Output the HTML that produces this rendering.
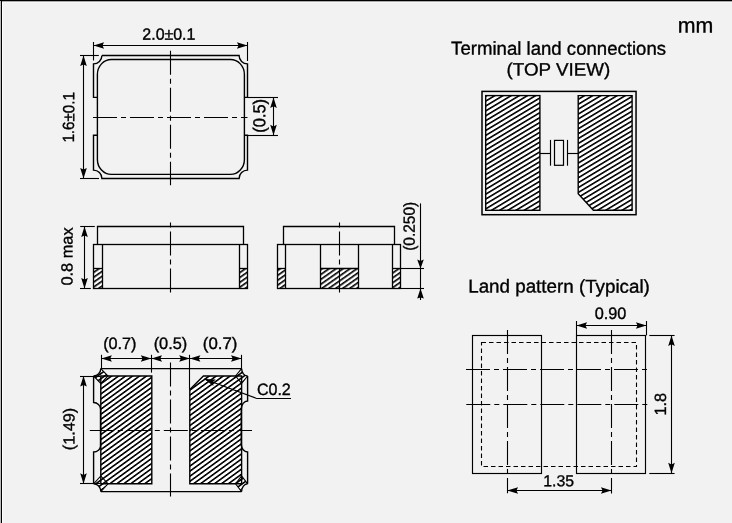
<!DOCTYPE html>
<html><head><meta charset="utf-8"><style>
html,body{margin:0;padding:0;background:#f1f2f1;}
svg{display:block;will-change:transform;}
text{text-rendering:geometricPrecision;font-family:"Liberation Sans",sans-serif;fill:#000;stroke:#000;stroke-width:0.35px;}
</style></head><body>
<svg width="732" height="523" viewBox="0 0 732 523">
<defs>
<pattern id="h1" patternUnits="userSpaceOnUse" width="4" height="4" patternTransform="rotate(-35)"><rect width="5" height="5" fill="#fff"/><rect width="5" height="1.65" fill="#000"/></pattern>
<pattern id="h2" patternUnits="userSpaceOnUse" width="4.1" height="4.1" patternTransform="rotate(-36)"><rect width="5" height="5" fill="#fff"/><rect width="5" height="1.6" fill="#000"/></pattern>
<pattern id="h3" patternUnits="userSpaceOnUse" width="4.2" height="4.2" patternTransform="rotate(-31)"><rect width="5" height="5" fill="#fff"/><rect width="5" height="1.6" fill="#000"/></pattern>
</defs>
<rect width="732" height="523" fill="#f1f2f1"/>
<rect x="0" y="2" width="732" height="1" fill="#f7f7f7"/>
<rect x="0" y="1" width="732" height="1" fill="#aaa"/>
<rect x="0" y="0" width="1" height="523" fill="#bbb"/>
<rect x="2" y="2" width="1" height="521" fill="#fff"/>
<rect x="1" y="0" width="1" height="523" fill="#000"/>
<rect x="0" y="0" width="732" height="1" fill="#000"/>
<g stroke="#000" fill="none">
<path d="M101.9 55.5 L239.1 55.5 A8.4 8.4 0 0 0 247.5 63.9 L247.5 97.4 L244.4 97.4 M244.4 135.3 L247.5 135.3 L247.5 170.1 A8.4 8.4 0 0 0 239.1 178.5 L101.9 178.5 A8.4 8.4 0 0 0 93.5 170.1 L93.5 135.3 L97.4 135.3 M97.4 97.4 L93.5 97.4 L93.5 63.9 A8.4 8.4 0 0 0 101.9 55.5" stroke-width="1.4" fill="none" />
<rect x="97.4" y="59.5" width="147.0" height="114.9" rx="14" ry="15" fill="none" stroke-width="1.4"/>
<line x1="170.5" y1="50.7" x2="170.5" y2="185.3" stroke-width="1.1" stroke-dasharray="24 4 5 4" stroke-dashoffset="0"/>
<line x1="93" y1="117.5" x2="247.5" y2="117.5" stroke-width="1.1" stroke-dasharray="24 4 5 4" stroke-dashoffset="0"/>
<line x1="93.5" y1="42" x2="93.5" y2="60.5" stroke-width="1.1" />
<line x1="247.5" y1="42" x2="247.5" y2="61" stroke-width="1.1" />
<line x1="93.5" y1="45.5" x2="247.5" y2="45.5" stroke-width="1.1" />
<path d="M93.50 45.50 L104.10 48.80 L102.40 45.50 L104.10 42.20Z" fill="#000" stroke="none"/>
<path d="M247.50 45.50 L236.90 42.20 L238.60 45.50 L236.90 48.80Z" fill="#000" stroke="none"/>
<line x1="80" y1="55.5" x2="98.8" y2="55.5" stroke-width="1.1" />
<line x1="80" y1="178.5" x2="99" y2="178.5" stroke-width="1.1" />
<line x1="83.5" y1="55.5" x2="83.5" y2="178.5" stroke-width="1.1" />
<path d="M83.50 55.50 L80.20 66.10 L83.50 64.40 L86.80 66.10Z" fill="#000" stroke="none"/>
<path d="M83.50 178.50 L86.80 167.90 L83.50 169.60 L80.20 167.90Z" fill="#000" stroke="none"/>
<line x1="247.5" y1="97.5" x2="278" y2="97.5" stroke-width="1.1" />
<line x1="247.5" y1="135.5" x2="278" y2="135.5" stroke-width="1.1" />
<line x1="273.5" y1="97.4" x2="273.5" y2="135.3" stroke-width="1.1" />
<path d="M273.50 97.40 L270.20 108.00 L273.50 106.30 L276.80 108.00Z" fill="#000" stroke="none"/>
<path d="M273.50 135.30 L276.80 124.70 L273.50 126.40 L270.20 124.70Z" fill="#000" stroke="none"/>
<rect x="93.5" y="268.5" width="9" height="20.0" fill="url(#h1)" stroke="none"/>
<rect x="239.5" y="268.5" width="8" height="20.0" fill="url(#h1)" stroke="none"/>
<path d="M97.5 244.5 L97.5 226.5 L243.5 226.5 L243.5 244.5" stroke-width="1.3" fill="none" />
<rect x="93.5" y="244.5" width="154" height="44.0" fill="none" stroke-width="1.3"/>
<line x1="102.5" y1="244.5" x2="102.5" y2="288.5" stroke-width="1.3" />
<line x1="239.5" y1="244.5" x2="239.5" y2="288.5" stroke-width="1.3" />
<line x1="93.5" y1="268.5" x2="102.5" y2="268.5" stroke-width="1.3" />
<line x1="239.5" y1="268.5" x2="247.5" y2="268.5" stroke-width="1.3" />
<line x1="170.5" y1="222.5" x2="170.5" y2="292.7" stroke-width="1.1" stroke-dasharray="24 4 5 4" stroke-dashoffset="28"/>
<line x1="80.2" y1="226.5" x2="94.8" y2="226.5" stroke-width="1.1" />
<line x1="80" y1="288.5" x2="90.8" y2="288.5" stroke-width="1.1" />
<line x1="84.5" y1="226.4" x2="84.5" y2="288.5" stroke-width="1.1" />
<path d="M84.50 226.50 L81.20 237.10 L84.50 235.40 L87.80 237.10Z" fill="#000" stroke="none"/>
<path d="M84.50 288.50 L87.80 277.90 L84.50 279.60 L81.20 277.90Z" fill="#000" stroke="none"/>
<rect x="277.5" y="268.5" width="8.00" height="20.00" fill="url(#h1)" stroke="none"/>
<rect x="320.5" y="268.5" width="38.00" height="20.00" fill="url(#h1)" stroke="none"/>
<rect x="392.5" y="268.5" width="8.00" height="20.00" fill="url(#h1)" stroke="none"/>
<path d="M283.5 244.5 L283.5 226.5 L394.5 226.5 L394.5 244.5" stroke-width="1.3" fill="none" />
<rect x="277.5" y="244.5" width="123" height="44.00" fill="none" stroke-width="1.3"/>
<line x1="285.5" y1="244.5" x2="285.5" y2="288.5" stroke-width="1.3" />
<line x1="320.5" y1="244.5" x2="320.5" y2="288.5" stroke-width="1.3" />
<line x1="358.5" y1="244.5" x2="358.5" y2="288.5" stroke-width="1.3" />
<line x1="392.5" y1="244.5" x2="392.5" y2="288.5" stroke-width="1.3" />
<line x1="277.5" y1="268.5" x2="285.5" y2="268.5" stroke-width="1.3" />
<line x1="320.5" y1="268.5" x2="358.5" y2="268.5" stroke-width="1.3" />
<line x1="392.5" y1="268.5" x2="400.5" y2="268.5" stroke-width="1.3" />
<line x1="339.5" y1="222.5" x2="339.5" y2="292.5" stroke-width="1.1" stroke-dasharray="24 4 5 4" stroke-dashoffset="28"/>
<line x1="400.5" y1="268.5" x2="424" y2="268.5" stroke-width="1.1" />
<line x1="400.5" y1="288.5" x2="424" y2="288.5" stroke-width="1.1" />
<line x1="420.5" y1="203.4" x2="420.5" y2="300" stroke-width="1.1" />
<path d="M420.50 268.50 L423.80 259.50 L420.50 261.00 L417.20 259.50Z" fill="#000" stroke="none"/>
<path d="M420.50 288.50 L417.20 298.50 L420.50 297.40 L423.80 298.50Z" fill="#000" stroke="none"/>
<path d="M100.8 376 L151.8 376 L151.8 483.8 L100.8 483.8 Z" fill="url(#h2)" stroke="none"/>
<path d="M203.4 376 L241.6 376 L241.6 483.8 L189.8 483.8 L189.8 389.5 Z" fill="url(#h2)" stroke="none"/>
<path d="M100.8 368.60 L108.00 376 L100.8 383.40 L93.60 376 A7.20 7.40 0 0 0 100.8 368.60 Z" fill="url(#h2)" stroke="none"/>
<path d="M241.6 368.60 L235.60 376 L241.6 383.40 L247.60 376 A6.00 7.40 0 0 1 241.6 368.60 Z" fill="url(#h2)" stroke="none"/>
<path d="M100.8 491.60 L108.00 483.8 L100.8 476.00 L93.60 483.8 A7.20 7.80 0 0 1 100.8 491.60 Z" fill="url(#h2)" stroke="none"/>
<path d="M241.6 491.60 L235.60 483.8 L241.6 476.00 L247.60 483.8 A6.00 7.80 0 0 0 241.6 491.60 Z" fill="url(#h2)" stroke="none"/>
<path d="M100.8 376 L151.8 376 L151.8 483.8 L100.8 483.8 Z" fill="none" stroke-width="1.4"/>
<path d="M203.4 376 L241.6 376 L241.6 483.8 L189.8 483.8 L189.8 389.5 Z" fill="none" stroke-width="1.4"/>
<path d="M100.8 368.60 L108.00 376 L100.8 383.40 L93.60 376" fill="none" stroke-width="1.1"/>
<path d="M241.6 368.60 L235.60 376 L241.6 383.40 L247.60 376" fill="none" stroke-width="1.1"/>
<path d="M100.8 491.60 L108.00 483.8 L100.8 476.00 L93.60 483.8" fill="none" stroke-width="1.1"/>
<path d="M241.6 491.60 L235.60 483.8 L241.6 476.00 L247.60 483.8" fill="none" stroke-width="1.1"/>
<path d="M100.8 368.6 L241.6 368.6 M247.6 376 L247.6 401 C244.12 401 241.3 404.58 241.3 409 L241.3 444.5 C241.3 448.64 244.12 452 247.6 452 L247.6 483.8 M241.6 491.6 L100.8 491.6 M93.6 483.8 L93.6 452 C97.41 452 100.5 449.31 100.5 446 L100.5 409 C100.5 405.41 97.41 402.5 93.6 402.5 L93.6 376" stroke-width="1.4" fill="none" />
<path d="M100.8 368.6 A7.20 7.40 0 0 1 93.6 376" stroke-width="1.4" fill="none" />
<path d="M241.6 368.6 A6.00 7.40 0 0 0 247.6 376" stroke-width="1.4" fill="none" />
<path d="M100.8 491.6 A7.20 7.80 0 0 0 93.6 483.8" stroke-width="1.4" fill="none" />
<path d="M241.6 491.6 A6.00 7.80 0 0 1 247.6 483.8" stroke-width="1.4" fill="none" />
<line x1="170.5" y1="362.4" x2="170.5" y2="496.5" stroke-width="1.1" stroke-dasharray="24 4 5 4" stroke-dashoffset="0"/>
<line x1="89.8" y1="430.5" x2="252" y2="430.5" stroke-width="1.1" stroke-dasharray="24 4 5 4" stroke-dashoffset="0"/>
<line x1="101.5" y1="354.8" x2="101.5" y2="368.6" stroke-width="1.1" />
<line x1="151.5" y1="354.8" x2="151.5" y2="372.6" stroke-width="1.1" />
<line x1="189.5" y1="354.8" x2="189.5" y2="389.5" stroke-width="1.1" />
<line x1="241.5" y1="354.8" x2="241.5" y2="368.6" stroke-width="1.1" />
<line x1="101.3" y1="358.5" x2="241.6" y2="358.5" stroke-width="1.1" />
<path d="M101.30 358.50 L111.90 361.80 L110.20 358.50 L111.90 355.20Z" fill="#000" stroke="none"/>
<path d="M151.40 358.50 L140.80 355.20 L142.50 358.50 L140.80 361.80Z" fill="#000" stroke="none"/>
<path d="M151.40 358.50 L162.00 361.80 L160.30 358.50 L162.00 355.20Z" fill="#000" stroke="none"/>
<path d="M189.80 358.50 L179.20 355.20 L180.90 358.50 L179.20 361.80Z" fill="#000" stroke="none"/>
<path d="M189.80 358.50 L200.40 361.80 L198.70 358.50 L200.40 355.20Z" fill="#000" stroke="none"/>
<path d="M241.60 358.50 L231.00 355.20 L232.70 358.50 L231.00 361.80Z" fill="#000" stroke="none"/>
<line x1="80" y1="376.5" x2="100" y2="376.5" stroke-width="1.1" />
<line x1="80" y1="483.5" x2="100" y2="483.5" stroke-width="1.1" />
<line x1="83.5" y1="376" x2="83.5" y2="483.8" stroke-width="1.1" />
<path d="M83.50 376.00 L80.20 386.60 L83.50 384.90 L86.80 386.60Z" fill="#000" stroke="none"/>
<path d="M83.50 483.80 L86.80 473.20 L83.50 474.90 L80.20 473.20Z" fill="#000" stroke="none"/>
<line x1="204.3" y1="378.9" x2="256.1" y2="398.2" stroke-width="1.1" />
<line x1="256.1" y1="398.5" x2="291" y2="398.5" stroke-width="1.1" />
<path d="M204.30 378.90 L213.42 385.93 L212.92 382.11 L215.79 379.55Z" fill="#000" stroke="none"/>
<rect x="485.7" y="95.6" width="54.20" height="114.70" fill="url(#h3)" stroke-width="1.4"/>
<path d="M578.2 95.6 L632.1 95.6 L632.1 210.3 L593.4 210.3 L578.2 193.7 Z" fill="url(#h3)" stroke-width="1.4"/>
<rect x="482" y="91.4" width="154.05" height="123.3" fill="none" stroke-width="1.5"/>
<line x1="539.9" y1="153.5" x2="550.5" y2="153.5" stroke-width="1.15" />
<line x1="567.5" y1="153.5" x2="578.2" y2="153.5" stroke-width="1.15" />
<line x1="550.5" y1="139.9" x2="550.5" y2="165.7" stroke-width="1.15" />
<line x1="567.5" y1="139.9" x2="567.5" y2="165.7" stroke-width="1.15" />
<rect x="554.5" y="140.4" width="9" height="24.9" fill="none" stroke-width="1.2"/>
<rect x="472.5" y="335.5" width="69" height="138" fill="none" stroke-width="1.15"/>
<rect x="576.5" y="335.5" width="69" height="138" fill="none" stroke-width="1.15"/>
<rect x="481.5" y="342.5" width="155" height="124" fill="none" stroke-width="1.1" stroke-dasharray="4.5 3"/>
<line x1="507.5" y1="330" x2="507.5" y2="493.3" stroke-width="1.1" stroke-dasharray="24 4 5 4" stroke-dashoffset="0"/>
<line x1="611.5" y1="329.9" x2="611.5" y2="493.4" stroke-width="1.1" stroke-dasharray="24 4 5 4" stroke-dashoffset="0"/>
<line x1="466" y1="369.5" x2="647.5" y2="369.5" stroke-width="1.1" stroke-dasharray="24 4 5 4" stroke-dashoffset="0"/>
<line x1="466.3" y1="404.5" x2="647.5" y2="404.5" stroke-width="1.1" stroke-dasharray="24 4 5 4" stroke-dashoffset="0"/>
<line x1="576.5" y1="321" x2="576.5" y2="335.4" stroke-width="1.1" />
<line x1="646.5" y1="321" x2="646.5" y2="335.4" stroke-width="1.1" />
<line x1="576.5" y1="325.5" x2="646.5" y2="325.5" stroke-width="1.1" />
<path d="M576.50 325.50 L587.10 328.80 L585.40 325.50 L587.10 322.20Z" fill="#000" stroke="none"/>
<path d="M646.50 325.50 L635.90 322.20 L637.60 325.50 L635.90 328.80Z" fill="#000" stroke="none"/>
<line x1="649.3" y1="335.5" x2="674.6" y2="335.5" stroke-width="1.1" />
<line x1="649.3" y1="473.5" x2="674.6" y2="473.5" stroke-width="1.1" />
<line x1="671.5" y1="335.4" x2="671.5" y2="473.3" stroke-width="1.1" />
<path d="M671.50 335.40 L668.20 346.00 L671.50 344.30 L674.80 346.00Z" fill="#000" stroke="none"/>
<path d="M671.50 473.30 L674.80 462.70 L671.50 464.40 L668.20 462.70Z" fill="#000" stroke="none"/>
<line x1="507.5" y1="490.5" x2="611.5" y2="490.5" stroke-width="1.1" />
<path d="M507.50 490.50 L518.10 493.80 L516.40 490.50 L518.10 487.20Z" fill="#000" stroke="none"/>
<path d="M611.50 490.50 L600.90 487.20 L602.60 490.50 L600.90 493.80Z" fill="#000" stroke="none"/>
</g>
<g>
<g transform="matrix(1.01456 0 0 1.03947 -2.582 -1.725)"><text transform="rotate(0.05 169 40)" x="169" y="40" font-size="15.7" text-anchor="middle">2.0±0.1</text></g>
<g transform="matrix(1.03278 0 0 0.96909 -2.600 3.938)"><text transform="translate(74.3,117) rotate(-89.95)" font-size="15.7" text-anchor="middle">1.6±0.1</text></g>
<g transform="matrix(1.08038 0 0 1.02534 -22.124 -3.149)"><text transform="translate(266,116) rotate(-89.95)" font-size="16" text-anchor="middle">(0.5)</text></g>
<g transform="matrix(1.00799 0 0 1.02128 -1.172 -4.937)"><text transform="translate(73.2,256) rotate(-89.95)" font-size="16" text-anchor="middle">0.8 max</text></g>
<g transform="matrix(1.01387 0 0 0.96546 -6.709 8.153)"><text transform="translate(415.8,226) rotate(-89.95)" font-size="16" text-anchor="middle">(0.250)</text></g>
<g transform="matrix(1.00258 0 0 1.01684 -0.254 -5.942)"><text transform="rotate(0.05 119.8 349.1)" x="119.8" y="349.1" font-size="16.2" text-anchor="middle">(0.7)</text></g>
<g transform="matrix(1.00834 0 0 1.02162 -1.357 -7.625)"><text transform="rotate(0.05 170.4 349.1)" x="170.4" y="349.1" font-size="16.2" text-anchor="middle">(0.5)</text></g>
<g transform="matrix(1.03624 0 0 1.03160 -7.695 -11.055)"><text transform="rotate(0.05 219.8 349.1)" x="219.8" y="349.1" font-size="16.2" text-anchor="middle">(0.7)</text></g>
<g transform="matrix(1.00088 0 0 1.01562 -1.478 -6.669)"><text transform="translate(75.8,429) rotate(-89.95)" font-size="16" text-anchor="middle">(1.49)</text></g>
<g transform="matrix(0.97225 0 0 1.00039 7.453 -0.323)"><text transform="rotate(0.05 274 395.2)" x="274" y="395.2" font-size="16.5" text-anchor="middle">C0.2</text></g>
<g transform="matrix(1.00499 0 0 1.00518 -2.704 -0.696)"><text transform="rotate(0.05 558.5 55.1)" x="558.5" y="55.1" font-size="18.5" text-anchor="middle">Terminal land connections</text></g>
<g transform="matrix(1.01673 0 0 0.96348 -9.409 2.598)"><text transform="rotate(0.05 558.5 75.7)" x="558.5" y="75.7" font-size="18.5" text-anchor="middle">(TOP VIEW)</text></g>
<g transform="matrix(1.01525 0 0 1.00688 -8.503 -1.574)"><text transform="rotate(0.05 559 292.2)" x="559" y="292.2" font-size="18.5" text-anchor="middle">Land pattern (Typical)</text></g>
<g transform="matrix(1.01673 0 0 1.03185 -10.152 -10.437)"><text transform="rotate(0.05 610.5 319.2)" x="610.5" y="319.2" font-size="16" text-anchor="middle">0.90</text></g>
<g transform="matrix(1.01825 0 0 1.02001 -12.320 -7.883)"><text transform="translate(666.2,404) rotate(-89.95)" font-size="16" text-anchor="middle">1.8</text></g>
<g transform="matrix(0.99050 0 0 0.99417 4.948 2.428)"><text transform="rotate(0.05 559 486.7)" x="559" y="486.7" font-size="16" text-anchor="middle">1.35</text></g>
<g transform="matrix(1.04060 0 0 1.03623 -28.168 -1.229)"><text transform="rotate(0.05 695.5 32.5)" x="695.5" y="32.5" font-size="20.5" text-anchor="middle">mm</text></g>
</g>
</svg>
</body></html>
